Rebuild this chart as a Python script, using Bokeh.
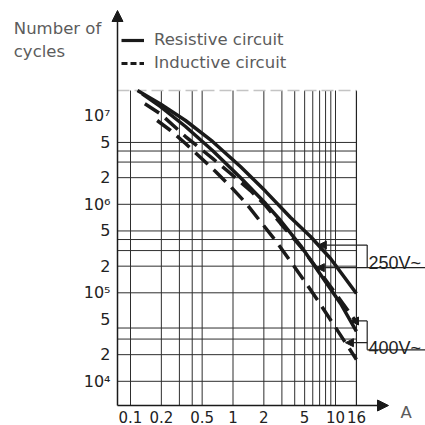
import numpy as np
from bokeh.plotting import figure
from bokeh.models import Range1d, FixedTicker, Arrow, NormalHead, Label, Legend, LegendItem
from bokeh.embed import file_html
from bokeh.resources import INLINE

# ---------------- data ----------------
current_ticks = [0.1, 0.2, 0.5, 1, 2, 5, 10, 16]
current_tick_labels = ["0.1", "0.2", "0.5", "1", "2", "5", "10", "16"]
cycles_ticks = [1e4, 2e4, 5e4, 1e5, 2e5, 5e5, 1e6, 2e6, 5e6, 1e7]
cycles_tick_labels = ["10⁴", "2", "5", "10⁵", "2", "5", "10⁶", "2", "5", "10⁷"]
current_grid = [0.1, 0.2, 0.3, 0.4, 0.5, 1, 2, 3, 4, 5, 6, 7, 8, 9, 10]
cycles_grid = [1e4, 2e4, 3e4, 4e4, 1e5, 2e5, 3e5, 4e5, 5e5, 1e6, 2e6, 3e6, 4e6, 5e6]
current_max = 16
cycles_top = 1.93e7

# resistive circuit, 250 V~ (solid)
res_250_x = [0.117, 0.196, 0.344, 0.631, 1.18, 2.08, 3.64, 5.70, 8.94, 16]
res_250_y = [1.93e7, 1.36e7, 8.85e6, 5.13e6, 2.67e6, 1.40e6, 7.10e5, 4.33e5, 2.44e5, 9.8e4]
# resistive circuit, 400 V~ (solid)
res_400_x = [0.130, 0.196, 0.344, 0.631, 1.18, 2.08, 2.91, 4.56, 7.14, 11.2, 16]
res_400_y = [1.77e7, 1.27e7, 7.57e6, 4.06e6, 2.01e6, 1.02e6, 6.56e5, 3.42e5, 1.61e5, 7.57e4, 3.66e4]
# inductive circuit, 250 V~ (dashed)
ind_250_x = [0.138, 0.196, 0.344, 0.631, 0.946, 1.48, 2.08, 2.91, 4.56, 6.38, 8.94, 16]
ind_250_y = [1.37e7, 1.05e7, 5.83e6, 3.30e6, 2.23e6, 1.43e6, 9.68e5, 6.07e5, 3.33e5, 1.98e5, 1.18e5, 4.66e4]
# inductive circuit, 400 V~ (dashed)
ind_400_x = [0.182, 0.246, 0.344, 0.482, 0.675, 0.946, 1.32, 1.85, 2.60, 3.64, 5.10, 7.14, 10.0, 16]
ind_400_y = [8.85e6, 6.82e6, 4.86e6, 3.38e6, 2.35e6, 1.59e6, 1.05e6, 6.40e5, 3.90e5, 2.26e5, 1.31e5, 7.38e4, 4.06e4, 1.76e4]

# ---------------- layout calibration (canvas pixels -> data) ----------------
X_ONE_PX, X_DEC_PX = 232.5, 102.5
Y_1E5_PX, Y_DEC_PX = 292.3, 88.5
W = H = 425


def xd(px):
    return 10 ** ((px - X_ONE_PX) / X_DEC_PX)


def yd(py):
    return 10 ** (5 + (Y_1E5_PX - py) / Y_DEC_PX)


def on_curve(xs, ys, x):
    return 10 ** np.interp(np.log10(x), np.log10(xs), np.log10(ys))


p = figure(width=W, height=H, x_axis_type="log", y_axis_type="log",
           x_range=Range1d(xd(0), xd(W)), y_range=Range1d(yd(H), yd(0)),
           min_border_left=0, min_border_right=0, min_border_top=0, min_border_bottom=0,
           output_backend="svg", toolbar_location=None)
p.outline_line_color = None
p.xgrid.visible = False
p.ygrid.visible = False

FONT = "DejaVu Sans"
INK = "#1a1a1a"
GREY_TXT = "#5c5c5c"

x_axis_level = yd(405)   # where the current axis is drawn
y_axis_level = xd(117)   # where the cycles axis is drawn

for ax in (p.xaxis[0], p.yaxis[0]):
    ax.axis_line_color = None
    ax.major_tick_line_color = None
    ax.minor_tick_line_color = None
    ax.major_tick_out = 0
    ax.major_tick_in = 0
    ax.minor_tick_out = 0
    ax.minor_tick_in = 0
    ax.major_label_text_font = FONT
    ax.major_label_text_color = "#222222"

p.xaxis.fixed_location = x_axis_level
p.xaxis.ticker = FixedTicker(ticks=current_ticks)
p.xaxis.major_label_overrides = {t: l for t, l in zip(current_ticks, current_tick_labels)}
p.xaxis.major_label_text_font_size = "15px"
p.xaxis.major_label_standoff = 5

p.yaxis.fixed_location = y_axis_level
p.yaxis.ticker = FixedTicker(ticks=cycles_ticks)
p.yaxis.major_label_overrides = {t: l for t, l in zip(cycles_ticks, cycles_tick_labels)}
p.yaxis.major_label_text_font_size = "16px"
p.yaxis.major_label_standoff = 7

# grid
n = len(current_grid)
p.segment(x0=current_grid, y0=[x_axis_level] * n, x1=current_grid, y1=[cycles_top] * n,
          line_color="#2e2e2e", line_width=1)
m = len(cycles_grid)
p.segment(x0=[y_axis_level] * m, y0=cycles_grid, x1=[current_max] * m, y1=cycles_grid,
          line_color="#2e2e2e", line_width=1)
p.segment(x0=[current_max], y0=[x_axis_level], x1=[current_max], y1=[cycles_top],
          line_color="#222222", line_width=1.2)
p.segment(x0=[y_axis_level], y0=[cycles_top], x1=[current_max], y1=[cycles_top],
          line_color="#c4c4c4", line_width=1.5, line_dash="12 5")

# curves
LW = 3.5
p.line(res_250_x, res_250_y, line_color=INK, line_width=LW)
p.line(res_400_x, res_400_y, line_color=INK, line_width=LW)
p.line(ind_250_x, ind_250_y, line_color=INK, line_width=LW, line_dash="17 8")
p.line(ind_400_x, ind_400_y, line_color=INK, line_width=LW, line_dash="17 8")

# axes with arrows
p.add_layout(Arrow(end=NormalHead(size=11, fill_color=INK, line_color=INK, line_width=1),
                   x_start=y_axis_level, y_start=x_axis_level, x_end=y_axis_level, y_end=yd(10),
                   line_color=INK, line_width=1.5))
p.add_layout(Arrow(end=NormalHead(size=11, fill_color=INK, line_color=INK, line_width=1),
                   x_start=y_axis_level, y_start=x_axis_level, x_end=xd(388), y_end=x_axis_level,
                   line_color=INK, line_width=1.5))

# voltage brackets
x_br = xd(366.7)
x_edge = xd(440)
tipA = (6.8, on_curve(res_250_x, res_250_y, 6.8))
tipC = (6.5, on_curve(ind_250_x, ind_250_y, 6.5))
tipB = (14.0, on_curve(res_400_x, res_400_y, 14.0))
tipD = (12.5, on_curve(ind_400_x, ind_400_y, 12.5))
y_under_400 = yd(349.3)


def head():
    return NormalHead(size=8, fill_color=INK, line_color=INK, line_width=1)


p.add_layout(Arrow(end=head(), x_start=x_br, y_start=tipA[1], x_end=tipA[0], y_end=tipA[1],
                   line_color="#222222", line_width=1.2))
p.add_layout(Arrow(end=head(), x_start=x_edge, y_start=tipC[1], x_end=tipC[0], y_end=tipC[1],
                   line_color="#222222", line_width=1.2))
p.add_layout(Arrow(end=head(), x_start=x_br, y_start=tipB[1], x_end=tipB[0], y_end=tipB[1],
                   line_color="#222222", line_width=1.2))
p.add_layout(Arrow(end=head(), x_start=x_br, y_start=tipD[1], x_end=tipD[0], y_end=tipD[1],
                   line_color="#222222", line_width=1.2))
p.segment(x0=[x_br, x_br, x_br], y0=[tipA[1], tipB[1], y_under_400],
          x1=[x_br, x_br, x_edge], y1=[tipC[1], y_under_400, y_under_400],
          line_color="#222222", line_width=1.2)

p.add_layout(Label(x=xd(368), y=yd(262), text="250V~", text_font="Liberation Sans",
                   text_font_size="18px", text_color="#222222", text_baseline="alphabetic"))
p.add_layout(Label(x=xd(368), y=yd(347), text="400V~", text_font="Liberation Sans",
                   text_font_size="18px", text_color="#222222", text_baseline="alphabetic"))

# axis titles
p.add_layout(Label(x=xd(13.3), y=yd(27.5), text="Number of", text_font=FONT,
                   text_font_size="16.5px", text_color=GREY_TXT, text_baseline="alphabetic"))
p.add_layout(Label(x=xd(13.3), y=yd(50.5), text="cycles", text_font=FONT,
                   text_font_size="16.5px", text_color=GREY_TXT, text_baseline="alphabetic"))
p.add_layout(Label(x=xd(400), y=yd(412), text="A", text_font=FONT,
                   text_font_size="16.5px", text_color=GREY_TXT, text_baseline="alphabetic"))

# legend (sample glyphs only; a single vertex draws nothing on the plot)
leg_solid = p.line(x=res_250_x[:1], y=res_250_y[:1], line_color=INK, line_width=3.2)
leg_dash = p.line(x=ind_250_x[:1], y=ind_250_y[:1], line_color=INK, line_width=3.2, line_dash="6 3")
legend = Legend(items=[LegendItem(label="Resistive circuit", renderers=[leg_solid]),
                       LegendItem(label="Inductive circuit", renderers=[leg_dash])],
                location=(121, H - 72.5), margin=0, padding=0, spacing=3,
                glyph_width=23, glyph_height=20, label_height=20, label_standoff=10,
                label_text_font=FONT, label_text_font_size="16.5px", label_text_color=GREY_TXT,
                background_fill_alpha=0, border_line_color=None)
p.add_layout(legend)

open("out.html", "w").write(file_html(p, INLINE))
